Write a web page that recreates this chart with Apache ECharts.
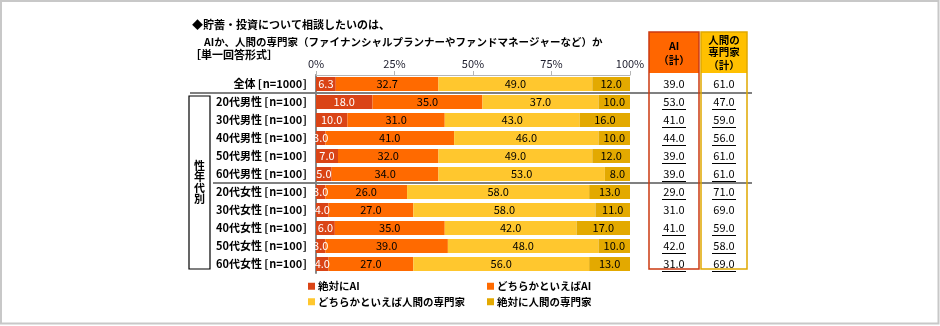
<!DOCTYPE html>
<html>
<head>
<meta charset="utf-8">
<script src="https://cdn.jsdelivr.net/npm/echarts@6/dist/echarts.min.js"></script>
<style>
  html, body { margin: 0; padding: 0; background: #fff; }
  #chart { width: 940px; height: 326px; }
</style>
</head>
<body>
<div id="chart"></div>
<script>
// Row labels (top to bottom)
const categories = [
  '全体[n=1000]',
  '20代男性[n=100]', '30代男性[n=100]', '40代男性[n=100]', '50代男性[n=100]', '60代男性[n=100]',
  '20代女性[n=100]', '30代女性[n=100]', '40代女性[n=100]', '50代女性[n=100]', '60代女性[n=100]'
];

// Answer shares (%) per row
const absolutelyAI = [6.3, 18.0, 10.0, 3.0, 7.0, 5.0, 3.0, 4.0, 6.0, 3.0, 4.0];
const ratherAI     = [32.7, 35.0, 31.0, 41.0, 32.0, 34.0, 26.0, 27.0, 35.0, 39.0, 27.0];
const ratherHuman  = [49.0, 37.0, 43.0, 46.0, 49.0, 53.0, 58.0, 58.0, 42.0, 48.0, 56.0];
const absolutelyHuman = [12.0, 10.0, 16.0, 10.0, 12.0, 8.0, 13.0, 11.0, 17.0, 10.0, 13.0];

// Totals shown in the side table
const aiTotal    = [39.0, 53.0, 41.0, 44.0, 39.0, 39.0, 29.0, 31.0, 41.0, 42.0, 31.0];
const humanTotal = [61.0, 47.0, 59.0, 56.0, 61.0, 61.0, 71.0, 69.0, 59.0, 58.0, 69.0];
const totalUnderlined = [false, true, true, true, true, true, true, false, true, true, true];

const seriesNames = ['絶対にAI', 'どちらかといえばAI', 'どちらかといえば人間の専門家', '絶対に人間の専門家'];
const xTicks = [0, 25, 50, 75, 100];

const FONT = "'Noto Sans CJK JP', 'Noto Sans', sans-serif";
const colors = ['#da4416', '#ff6a00', '#ffc72e', '#e3a900'];

const chart = echarts.init(document.getElementById('chart'), null, { renderer: 'canvas' });

function barSeries(name, data, color, labelColor) {
  return {
    name: name,
    type: 'bar',
    stack: 'total',
    data: data,
    barWidth: 14,
    itemStyle: { color: color },
    label: {
      show: true,
      position: 'inside',
      color: labelColor,
      fontFamily: FONT,
      fontSize: 11,
      formatter: p => p.value.toFixed(1)
    },
    emphasis: { disabled: true },
    animation: false
  };
}

// category label: name part and the bracketed sample size with small gaps around the brackets
function categoryLabel(v) {
  const i = v.indexOf('[');
  return v.slice(0, i) + '\u2009[\u200a' + v.slice(i + 1, -1) + '\u200a]';
}

const legendText = { fontSize: 10.5, fontWeight: 'bold', color: '#000', fontFamily: FONT, padding: [0, 0, 0, -2] };

const option = {
  animation: false,
  textStyle: { fontFamily: FONT },
  grid: { left: 316, right: 310, top: 75, bottom: 53 },
  xAxis: {
    type: 'value',
    position: 'top',
    min: xTicks[0],
    max: xTicks[xTicks.length - 1],
    interval: 25,
    splitLine: { show: false },
    axisLine: { show: true, lineStyle: { color: '#b5b5b5', width: 1 } },
    axisTick: { show: true, length: 4, lineStyle: { color: '#b5b5b5' } },
    axisLabel: {
      margin: 6,
      color: '#1c1c2c',
      fontSize: 11,
      fontFamily: FONT,
      formatter: v => v + '%'
    }
  },
  yAxis: {
    type: 'category',
    inverse: true,
    data: categories,
    axisLine: { show: true, lineStyle: { color: '#888', width: 2 } },
    axisTick: { show: false },
    axisLabel: {
      margin: 9,
      color: '#000',
      fontSize: 11,
      fontWeight: 'bold',
      fontFamily: FONT,
      formatter: categoryLabel
    }
  },
  legend: [
    {
      data: [seriesNames[0], seriesNames[2]],
      orient: 'vertical',
      left: 303, top: 276,
      itemWidth: 7, itemHeight: 7, itemGap: 5,
      icon: 'rect',
      selectedMode: false,
      textStyle: legendText
    },
    {
      data: [seriesNames[1], seriesNames[3]],
      orient: 'vertical',
      left: 482, top: 276,
      itemWidth: 7, itemHeight: 7, itemGap: 5,
      icon: 'rect',
      selectedMode: false,
      textStyle: legendText
    }
  ],
  series: [
    barSeries(seriesNames[0], absolutelyAI, colors[0], '#fff'),
    barSeries(seriesNames[1], ratherAI, colors[1], '#000'),
    barSeries(seriesNames[2], ratherHuman, colors[2], '#000'),
    barSeries(seriesNames[3], absolutelyHuman, colors[3], '#000')
  ]
};

chart.setOption(option);

// Decorations: title, group box, separators and the totals table
const rowY = categories.map(c => chart.convertToPixel({ yAxisIndex: 0 }, c));
const graphics = [];

function text(str, x, y, opts) {
  graphics.push({
    type: 'text',
    silent: true,
    style: {
      text: str, x: x, y: y,
      fill: '#000',
      font: (opts && opts.bold ? 'bold ' : '') + ((opts && opts.size) || 11) + 'px ' + FONT,
      textAlign: (opts && opts.align) || 'left',
      textVerticalAlign: 'middle'
    },
    z: 20
  });
}
function line(x1, y1, x2, y2, color, width) {
  graphics.push({
    type: 'line', silent: true, z: 15,
    shape: { x1: x1, y1: y1, x2: x2, y2: y2 },
    style: { stroke: color, lineWidth: width }
  });
}
function rect(x, y, w, h, fill, stroke, lw, z) {
  graphics.push({
    type: 'rect', silent: true, z: z || 10,
    shape: { x: x, y: y, width: w, height: h },
    style: { fill: fill, stroke: stroke, lineWidth: lw || 0 }
  });
}

// outer frame
rect(1, 1, 937.5, 322.5, 'none', '#c8c8c8', 2, 1);

// heading
text('◆貯蓄・投資について相談したいのは、', 192, 25, { bold: true, size: 11 });
text('AIか、人間の専門家（ファイナンシャルプランナーやファンドマネージャーなど）か', 204, 42, { bold: true, size: 10.5 });
text('［単一回答形式］', 190, 55, { bold: true, size: 11 });

// separators between row groups
const sep1 = (rowY[0] + rowY[1]) / 2;
const sep2 = (rowY[5] + rowY[6]) / 2;
line(190, sep1, 752, sep1, '#808080', 2);
line(213, sep2, 752, sep2, '#808080', 2);

// group box with vertical caption
const boxTop = rowY[1] - 6, boxBottom = rowY[10] + 5;
rect(189, boxTop, 21, boxBottom - boxTop, '#fff', '#000', 1.2, 12);
const mid = (boxTop + boxBottom) / 2;
'性年代別'.split('').forEach((ch, i) => {
  text(ch, 199.5, mid + (i - 1.5) * 11, { bold: true, size: 11, align: 'center' });
});

// totals table
const tableTop = 32;
const aiX = 649, aiW = 50, huX = 701, huW = 46;
rect(aiX, tableTop, aiW, 41, '#ff6600', 'none', 0, 11);
rect(huX, tableTop, huW, 41, '#ffc000', 'none', 0, 11);
rect(aiX, tableTop, aiW, boxBottom - tableTop, 'none', '#cc3a10', 1.5, 16);
rect(huX, tableTop, huW, boxBottom - tableTop, 'none', '#e0a800', 1.5, 16);
const aiCx = aiX + aiW / 2, huCx = huX + huW / 2;
text('AI', aiCx, 46, { bold: true, size: 10.5, align: 'center' });
text('（計）', aiCx, 60, { bold: true, size: 10.5, align: 'center' });
text('人間の', huCx, 40, { bold: true, size: 10.5, align: 'center' });
text('専門家', huCx, 52, { bold: true, size: 10.5, align: 'center' });
text('（計）', huCx, 65, { bold: true, size: 10.5, align: 'center' });

rowY.forEach((y, i) => {
  text(aiTotal[i].toFixed(1), aiCx, y, { size: 11, align: 'center' });
  text(humanTotal[i].toFixed(1), huCx, y, { size: 11, align: 'center' });
  if (totalUnderlined[i]) {
    line(aiCx - 12, y + 7.5, aiCx + 12, y + 7.5, '#000', 1);
    line(huCx - 12, y + 7.5, huCx + 12, y + 7.5, '#000', 1);
  }
});

chart.setOption({ graphic: graphics });
</script>
</body>
</html>
